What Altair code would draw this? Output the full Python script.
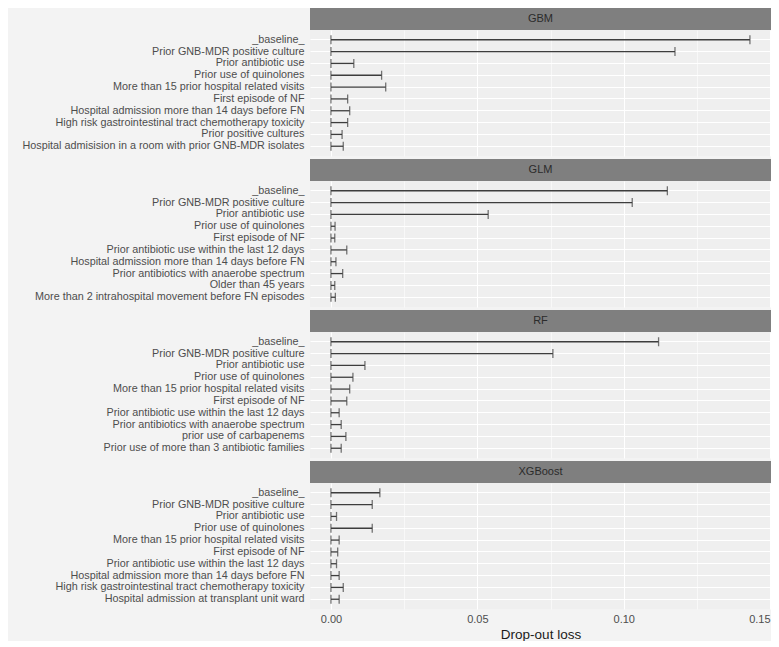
import altair as alt
import pandas as pd

models = ["GBM", "GLM", "RF", "XGBoost"]

gbm_vars = [
    "_baseline_",
    "Prior GNB-MDR positive culture",
    "Prior antibiotic use",
    "Prior use of quinolones",
    "More than 15 prior hospital related visits",
    "First episode of NF",
    "Hospital admission more than 14 days before FN",
    "High risk gastrointestinal tract chemotherapy toxicity",
    "Prior positive cultures",
    "Hospital admisision in a room with prior GNB-MDR isolates",
]
gbm_loss = [0.1431, 0.1175, 0.0078, 0.0173, 0.0187, 0.0057, 0.0064, 0.0057, 0.0038, 0.0042]

glm_vars = [
    "_baseline_",
    "Prior GNB-MDR positive culture",
    "Prior antibiotic use",
    "Prior use of quinolones",
    "First episode of NF",
    "Prior antibiotic use within the last 12 days",
    "Hospital admission more than 14 days before FN",
    "Prior antibiotics with anaerobe spectrum",
    "Older than 45 years",
    "More than 2 intrahospital movement before FN episodes",
]
glm_loss = [0.1149, 0.1029, 0.0537, 0.0014, 0.0013, 0.0054, 0.0017, 0.0040, 0.0013, 0.0015]

rf_vars = [
    "_baseline_",
    "Prior GNB-MDR positive culture",
    "Prior antibiotic use",
    "Prior use of quinolones",
    "More than 15 prior hospital related visits",
    "First episode of NF",
    "Prior antibiotic use within the last 12 days",
    "Prior antibiotics with anaerobe spectrum",
    "prior use of carbapenems",
    "Prior use of more than 3 antibiotic families",
]
rf_loss = [0.1119, 0.0758, 0.0116, 0.0075, 0.0064, 0.0054, 0.0028, 0.0035, 0.0051, 0.0035]

xgb_vars = [
    "_baseline_",
    "Prior GNB-MDR positive culture",
    "Prior antibiotic use",
    "Prior use of quinolones",
    "More than 15 prior hospital related visits",
    "First episode of NF",
    "Prior antibiotic use within the last 12 days",
    "Hospital admission more than 14 days before FN",
    "High risk gastrointestinal tract chemotherapy toxicity",
    "Hospital admission at transplant unit ward",
]
xgb_loss = [0.0167, 0.0141, 0.0019, 0.0141, 0.0028, 0.0023, 0.0019, 0.0028, 0.0042, 0.0028]

grid_values = [0.0, 0.025, 0.05, 0.075, 0.10, 0.125, 0.15]
x_domain = [-0.00716, 0.1503]

W = 461
BODY_H = 126
STRIP_H = 22
LINE = "#3d3d3d"
FONT = "Liberation Sans"

panels_data = [
    ("GBM", gbm_vars, gbm_loss),
    ("GLM", glm_vars, glm_loss),
    ("RF", rf_vars, rf_loss),
    ("XGBoost", xgb_vars, xgb_loss),
]

major_test = "round(datum.value*40) % 2 == 0"


def panel(model, vars_, loss, last):
    df = pd.DataFrame({"variable": vars_, "loss": loss, "zero": [0.0] * len(vars_)})
    xscale = alt.Scale(domain=x_domain, nice=False, zero=False)
    yscale = alt.Scale(domain=vars_, padding=0.65)
    axis_kw = dict(
        values=grid_values,
        grid=True,
        gridColor="white",
        gridWidth={"condition": {"test": major_test, "value": 1.1}, "value": 0.55},
        ticks=False,
        tickSize=0,
        domain=False,
        labelFlush=2,
        labelOverlap=False,
    )
    if last:
        xaxis = alt.Axis(
            title="Drop-out loss",
            labelExpr=f"{major_test} ? format(datum.value, '.2f') : ''",
            labelPadding=4,
            labelFontSize=11,
            labelColor="#4d4d4d",
            labelFont=FONT,
            titleFont=FONT,
            titleFontSize=13.5,
            titleFontWeight="normal",
            titleColor="#1a1a1a",
            titlePadding=3,
            **axis_kw,
        )
    else:
        xaxis = alt.Axis(title=None, labels=False, **axis_kw)
    yaxis = alt.Axis(
        title=None,
        grid=True,
        gridColor="white",
        gridWidth=1.0,
        ticks=False,
        tickSize=0,
        domain=False,
        labelPadding=6,
        labelFontSize=10.8,
        labelColor="#4d4d4d",
        labelFont=FONT,
        labelLimit=400,
        minExtent=302,
        maxExtent=302,
    )
    base = alt.Chart(df).encode(
        y=alt.Y("variable:N", scale=yscale, axis=yaxis, sort=vars_)
    )
    rule = base.mark_rule(color=LINE, strokeWidth=1.3).encode(
        x=alt.X("zero:Q", scale=xscale, axis=xaxis), x2="loss:Q"
    )
    cap0 = base.mark_tick(color=LINE, size=9, thickness=1.3, orient="vertical").encode(
        x=alt.X("zero:Q", scale=xscale)
    )
    cap1 = base.mark_tick(color=LINE, size=9, thickness=1.3, orient="vertical").encode(
        x=alt.X("loss:Q", scale=xscale)
    )
    sdf = pd.DataFrame({"model": [model]})
    strip = alt.Chart(sdf).mark_rect(color="#7f7f7f").encode(
        x=alt.value(0), x2=alt.value(W), y=alt.value(-STRIP_H), y2=alt.value(0)
    )
    strip_text = alt.Chart(sdf).mark_text(
        color="#2b2b2b", fontSize=11, font=FONT, baseline="middle", align="center"
    ).encode(text="model:N", x=alt.value(W / 2), y=alt.value(-STRIP_H / 2))
    return alt.layer(rule, cap0, cap1, strip, strip_text).properties(
        width=W, height=BODY_H
    )


charts = [
    panel(m, v, l, i == len(panels_data) - 1) for i, (m, v, l) in enumerate(panels_data)
]

chart = (
    alt.vconcat(*charts, spacing=3)
    .properties(padding=0, background="#f3f3f3")
    .configure_view(fill="#efefef", stroke=None)
)

chart.save("out.html", embed_options={"renderer": "svg", "actions": False})
